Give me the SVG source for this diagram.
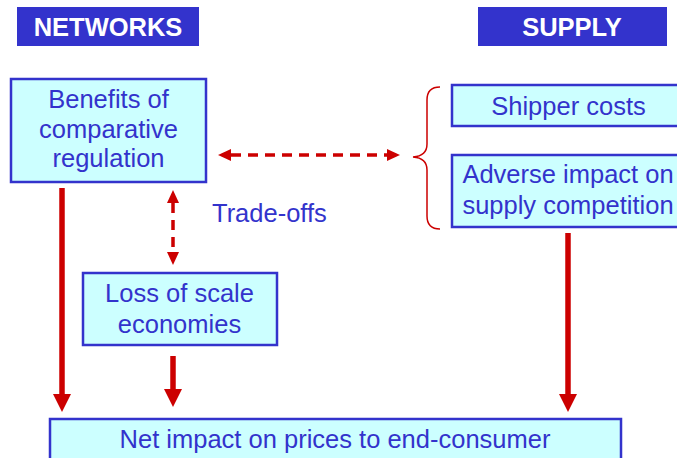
<svg xmlns="http://www.w3.org/2000/svg" width="677" height="458" viewBox="0 0 677 458">
  <style>
    .banner { fill: #3333cc; }
    .banner-text { fill: #ffffff; font-family: "Liberation Sans", Arial, sans-serif; font-weight: bold; font-size: 25.5px; text-anchor: middle; }
    .box { fill: #ccffff; stroke: #3333cc; stroke-width: 2.5; }
    .label { fill: #3333cc; font-family: "Liberation Sans", Arial, sans-serif; font-size: 25.5px; text-anchor: middle; }
    .solid { stroke: #cc0000; stroke-width: 5.5; fill: none; marker-end: url(#headSolid); }
    .dashed { stroke: #cc0000; stroke-width: 3.5; stroke-dasharray: 10 7; fill: none; marker-start: url(#headDash); marker-end: url(#headDash); }
    .brace { stroke: #cc0000; stroke-width: 1.5; fill: none; }
  </style>
  <defs>
    <marker id="headSolid" viewBox="0 0 18 18" markerWidth="18" markerHeight="18" markerUnits="userSpaceOnUse" refX="0" refY="9" orient="auto">
      <path d="M0,0 L18,9 L0,18 Z" fill="#cc0000"/>
    </marker>
    <marker id="headDash" viewBox="0 0 13 12" markerWidth="13" markerHeight="12" markerUnits="userSpaceOnUse" refX="0" refY="6" orient="auto-start-reverse">
      <path d="M0,0 L13,6 L0,12 Z" fill="#cc0000"/>
    </marker>
  </defs>

  <!-- column headings -->
  <g id="heading-networks">
    <rect class="banner" x="17" y="7" width="182" height="39"/>
    <text class="banner-text" x="108" y="36">NETWORKS</text>
  </g>
  <g id="heading-supply">
    <rect class="banner" x="478" y="7" width="189" height="39"/>
    <text class="banner-text" x="572" y="36">SUPPLY</text>
  </g>

  <!-- nodes -->
  <g id="benefits">
    <rect class="box" x="11" y="79" width="195" height="103"/>
    <text class="label" x="108.5" y="108">Benefits of</text>
    <text class="label" x="108.5" y="138">comparative</text>
    <text class="label" x="108.5" y="167">regulation</text>
  </g>
  <g id="shipper-costs">
    <rect class="box" x="452" y="85" width="240" height="41"/>
    <text class="label" x="568.5" y="115">Shipper costs</text>
  </g>
  <g id="adverse-impact">
    <rect class="box" x="452" y="155" width="240" height="72"/>
    <text class="label" x="568" y="183">Adverse impact on</text>
    <text class="label" x="568" y="214">supply competition</text>
  </g>
  <g id="scale-economies">
    <rect class="box" x="83" y="273" width="194" height="72"/>
    <text class="label" x="179.5" y="302">Loss of scale</text>
    <text class="label" x="179.5" y="333">economies</text>
  </g>
  <g id="net-impact">
    <rect class="box" x="50" y="419" width="571" height="60"/>
    <text class="label" x="335" y="448">Net impact on prices to end-consumer</text>
  </g>
  <g id="trade-offs-label">
    <text class="label" x="212" y="222" style="text-anchor: start">Trade-offs</text>
  </g>

  <!-- connectors -->
  <g id="connectors">
    <path class="brace" d="M440,87 Q427,87 427,100 L427,144 Q427,156 413,157 Q427,158 427,170 L427,216 Q427,229 440,229"/>
    <line class="dashed" x1="231" y1="155" x2="387" y2="155"/>
    <line class="dashed" x1="173" y1="203" x2="173" y2="252"/>
    <line class="solid" x1="62" y1="188" x2="62" y2="394"/>
    <line class="solid" x1="173" y1="356" x2="173" y2="389"/>
    <line class="solid" x1="568" y1="233" x2="568" y2="394"/>
  </g>
</svg>
